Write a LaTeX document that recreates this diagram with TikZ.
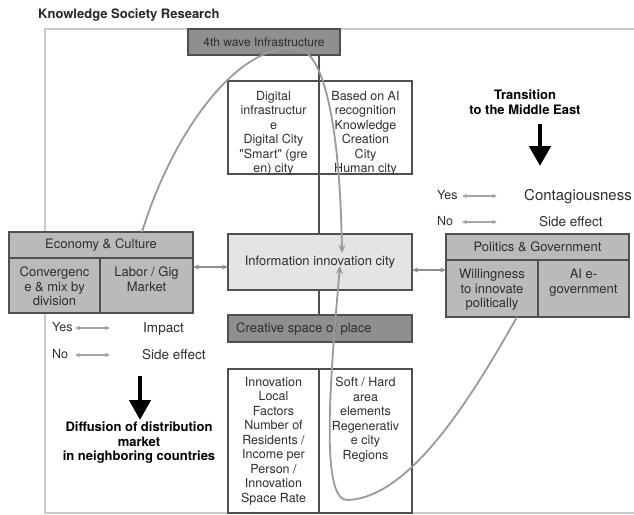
\documentclass[tikz,border=0pt]{standalone}
\usepackage{fontspec}
\setmainfont{TeX Gyre Heros}[Ligatures=TeXOff]
\usetikzlibrary{arrows.meta,calc}
\definecolor{boxline}{HTML}{505050}
\definecolor{darkfill}{HTML}{8F8F8F}
\definecolor{midfill}{HTML}{BABABA}
\definecolor{lightfill}{HTML}{E4E4E4}
\definecolor{curvecol}{HTML}{9A9A9A}
\definecolor{framecol}{HTML}{C9C9C9}
\definecolor{txt}{HTML}{2E2E2E}
\definecolor{legarrow}{HTML}{8E8E8E}
\begin{document}
\begin{tikzpicture}[x=1pt,y=-1pt,
  box/.style={draw=boxline, line width=1.7pt, inner sep=0pt, outer sep=0pt, anchor=north west, text=txt},
  ctext/.style={align=center, inner sep=0pt, text=txt, font=\fontsize{12.5}{14.5}\selectfont},
  stext/.style={align=center, inner sep=0pt, text=txt, font=\fontsize{13}{14.5}\selectfont},
  btext/.style={align=center, inner sep=0pt, text=black, font=\bfseries\fontsize{13}{14.5}\selectfont},
  legtext/.style={anchor=base west, inner sep=0pt, text=txt, font=\fontsize{12.5}{14}\selectfont},
  legword/.style={anchor=base west, inner sep=0pt, text=txt, font=\fontsize{13.5}{15}\selectfont},
  vline/.style={draw=boxline, line width=1.4pt},
  garrow/.style={draw=legarrow, line width=1.5pt, {Stealth[length=6pt,width=5pt]}-{Stealth[length=6pt,width=5pt]}},
  larrow/.style={draw=legarrow!80, line width=1.2pt, {Stealth[length=5pt,width=4.5pt]}-{Stealth[length=5pt,width=4.5pt]}},
  curve/.style={draw=curvecol, line width=1.8pt, -{Stealth[length=8pt,width=7pt]}},
  bigarrow/.style={draw=black, line width=4.5pt, -{Triangle[length=20pt,width=21pt]}}]

\useasboundingbox (0,0) rectangle (634,514);

% outer frame
\draw[framecol, line width=1.2pt] (634,29) -- (45,29) -- (45,513) -- (634,513);

% title
\node[anchor=base west, inner sep=0pt, font=\bfseries\fontsize{13}{15}\selectfont, text=black!85] (title) at (38,18) {Knowledge Society Research};

% centre column
\node[box, fill=darkfill, minimum width=152pt, minimum height=26pt, font=\fontsize{12}{14}\selectfont] (wave) at (188,29) {4th wave Infrastructure};

\node[box, fill=white, minimum width=91pt, minimum height=93pt] (ul) at (228,81) {};
\node[box, fill=white, minimum width=93pt, minimum height=93pt] (ur) at (319,81) {};
\node[ctext, anchor=north] (ult) at (273.5,91) {Digital\\infrastructur\\e\\Digital City\\"Smart" (gre\\en) city};
\node[ctext, anchor=north] (urt) at (365.5,91) {Based on AI\\recognition\\Knowledge\\Creation\\City\\Human city};

\node[box, fill=lightfill, minimum width=184pt, minimum height=56pt, font=\fontsize{13}{15}\selectfont] (info) at (228,234) {Information innovation city};

\node[box, fill=darkfill, minimum width=184pt, minimum height=27pt] (creat) at (228,315) {};
\node[anchor=west, inner sep=0pt, text=txt, font=\fontsize{13}{15}\selectfont] (creatt) at (236,329) {Creative space of place};

\node[box, fill=white, minimum width=91pt, minimum height=144pt] (ll) at (228,369) {};
\node[box, fill=white, minimum width=93pt, minimum height=144pt] (lr) at (319,369) {};
\node[ctext, anchor=north] (llt) at (273.5,377) {Innovation\\Local\\Factors\\Number of\\Residents /\\Income per\\Person /\\Innovation\\Space Rate};
\node[ctext, anchor=north] (lrt) at (365.5,377) {Soft / Hard\\area\\elements\\Regenerativ\\e city\\Regions};

% vertical spine
\draw[vline] (wave.south -| ul.north east) -- (ul.north east);
\draw[vline] (ul.south east) -- (info.north -| ul.south east);
\draw[vline] (info.south -| ul.south east) -- (creat.north -| ul.south east);

% Economy & Culture
\node[box, fill=midfill, minimum width=184pt, minimum height=26pt, font=\fontsize{13}{15}\selectfont] (econh) at (9,232) {Economy \& Culture};
\node[box, fill=midfill, minimum width=91pt, minimum height=55pt] (econl) at (9,258) {};
\node[box, fill=midfill, minimum width=93pt, minimum height=55pt] (econr) at (100,258) {};
\node[stext, anchor=north] (econlt) at (54.5,267) {Convergenc\\e \& mix by\\division};
\node[stext, anchor=north] (econrt) at (146.5,267) {Labor / Gig\\Market};

% Politics & Government
\node[box, fill=midfill, minimum width=183pt, minimum height=26pt, font=\fontsize{13}{15}\selectfont] (polh) at (446,234) {Politics \& Government};
\node[box, fill=midfill, minimum width=92pt, minimum height=57pt] (poll) at (446,260) {};
\node[box, fill=midfill, minimum width=91pt, minimum height=57pt] (polr) at (538,260) {};
\node[stext, anchor=north] (pollt) at (492,269) {Willingness\\to innovate\\politically};
\node[stext, anchor=north] (polrt) at (583.5,269) {AI e-\\government};

% side arrows
\coordinate (ya) at (0,267);
\coordinate (yb) at (0,270);
\draw[garrow] (econr.east |- ya) -- (info.west |- ya);
\draw[garrow] (info.east |- yb) -- (poll.west |- yb);

% left legend
\node[legtext] (yesl) at (52,331.5) {Yes};
\node[legtext] (nol) at (52,358.5) {No};
\node[legword] (impact) at (143,332) {Impact};
\node[legword] (sidel) at (142,359) {Side effect};
\coordinate (la1) at (75,328); \coordinate (lb1) at (110,328);
\coordinate (la2) at (75,355); \coordinate (lb2) at (110,355);
\draw[larrow] (la1) -- (lb1);
\draw[larrow] (la2) -- (lb2);

% right legend
\node[legtext] (yesr) at (437,199.5) {Yes};
\node[legtext] (nor) at (437,225.5) {No};
\node[anchor=base west, inner sep=0pt, text=txt, font=\fontsize{15}{17}\selectfont] (contag) at (524,200.5) {Contagiousness};
\node[legword] (sider) at (539,226) {Side effect};
\coordinate (ra1) at (462,196); \coordinate (rb1) at (497,196);
\coordinate (ra2) at (462,222); \coordinate (rb2) at (497,222);
\draw[larrow] (ra1) -- (rb1);
\draw[larrow] (ra2) -- (rb2);

% transition
\node[btext] (trans) at (525,102) {Transition\\to the Middle East};
\coordinate (ta) at (540,124); \coordinate (tb) at (540,166);
\draw[bigarrow] (ta) -- (tb);

% diffusion
\node[btext] (diff) at (139,443) {Diffusion of distribution\\market\\in neighboring countries};
\coordinate (da) at (140,376); \coordinate (db) at (140,420);
\draw[bigarrow] (da) -- (db);

% curves
\draw[curve] ([xshift=41pt]econh.north) .. controls (172,135) and (235,45) .. (295,48)
  .. controls (325,48) and (340,130) .. ([xshift=22pt,yshift=9pt]info.center);
\draw[curve] ([xshift=25pt]poll.south) .. controls (470,400) and (410,497) .. (348,500)
  .. controls (322,502) and (328,400) .. ([xshift=20pt,yshift=-4pt]info.center);
\end{tikzpicture}
\end{document}
